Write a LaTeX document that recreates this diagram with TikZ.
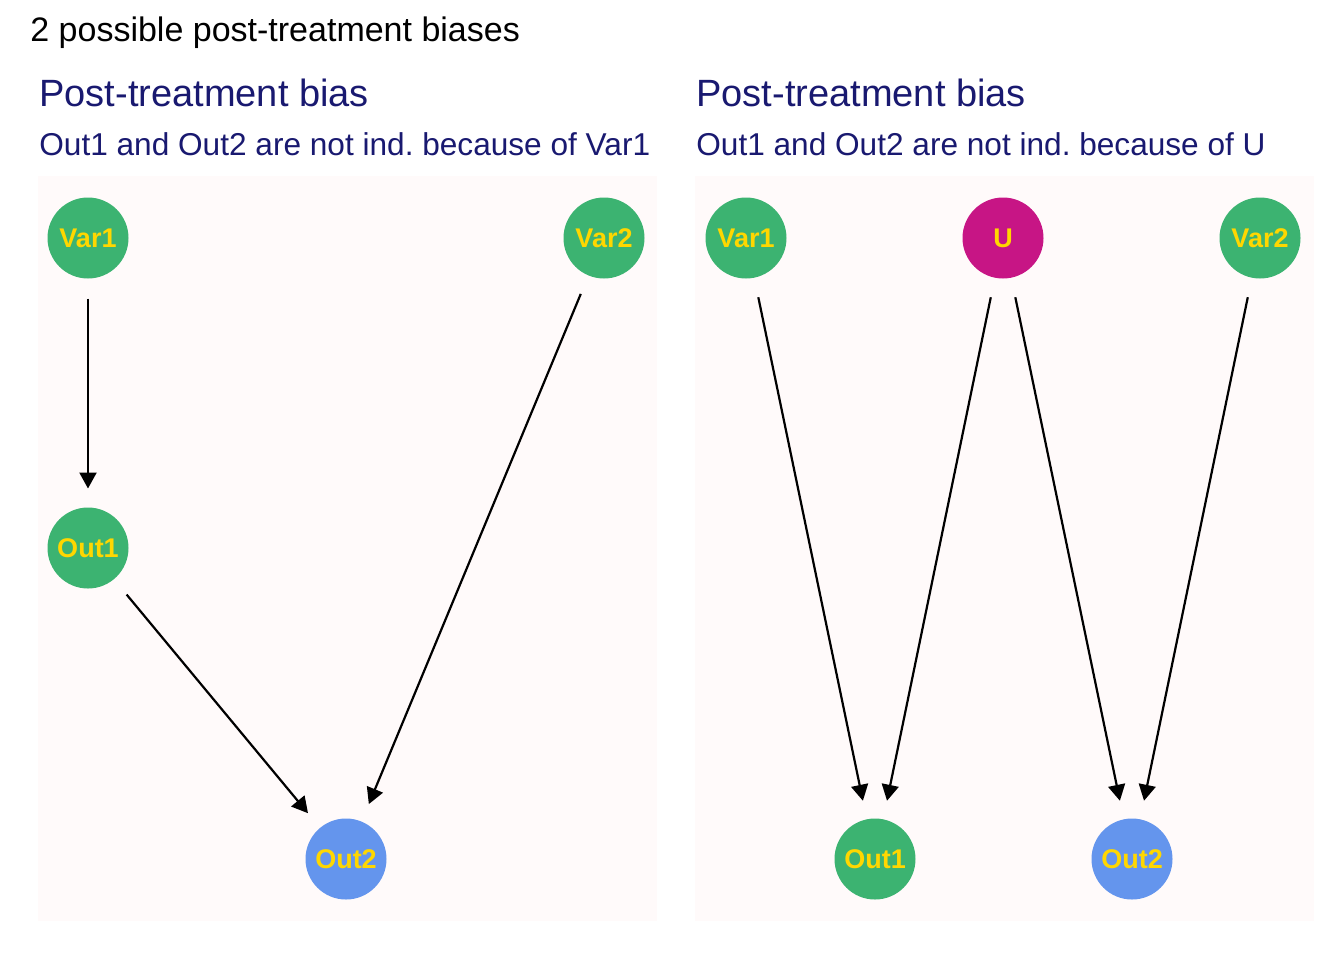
\documentclass[tikz,border=0pt]{standalone}
\usepackage{fontspec}
\setmainfont{Liberation Sans}
\frenchspacing
\usetikzlibrary{arrows, arrows.meta}
\definecolor{seagreen}{HTML}{3CB371}
\definecolor{cornblue}{HTML}{6495ED}
\definecolor{violetred}{HTML}{C71585}
\definecolor{goldtext}{HTML}{FFD700}
\definecolor{navytext}{HTML}{191970}
\definecolor{snowbg}{HTML}{FFFAFA}
\tikzset{vertex/.style = {shape = circle, fill = seagreen, minimum size = 40.5pt, inner sep = 0pt, outer sep = 0pt,
  text = goldtext, font = \fontsize{13.5}{15}\selectfont\bfseries}}
\tikzset{outcome/.style = {vertex, fill = cornblue}}
\tikzset{hidden/.style = {vertex, fill = violetred}}
\tikzset{edge/.style = {-{Triangle[length=8pt, width=8.5pt]}, line width = 1.1pt, shorten < = 10pt, shorten > = 9.5pt}}
\tikzset{heading/.style = {anchor = base west, inner sep = 0pt, text = navytext, font = \fontsize{19}{22}\selectfont}}
\tikzset{subheading/.style = {anchor = base west, inner sep = 0pt, text = navytext, font = \fontsize{15.8}{19}\selectfont}}

\begin{document}
\begin{tikzpicture}[x = {(0.5pt, 0)}, y = {(0, -0.5pt)}]
			\useasboundingbox[fill = white] (0, 0) rectangle (1344, 960);
			\node[anchor = base west, inner sep = 0pt, font = \fontsize{17}{20}\selectfont] (title) at (30, 41) {2 possible post-treatment biases};

			% left panel
			\fill[snowbg] (38, 176) rectangle (657, 921);
			\node[heading] (h1) at (39, 106) {Post-treatment bias};
			\node[subheading] (s1) at (39, 155) {Out1 and Out2 are not ind. because of Var1};

			\node[vertex] (a) at (88, 238) {Var1};
			\node[vertex] (b) at (604, 238) {Var2};
			\node[vertex] (c) at (88, 548) {Out1};
			\node[outcome] (d) at (346, 859) {Out2};

			\draw[edge] (a) to (c);
			\draw[edge] (c) to (d);
			\draw[edge] (b) to (d);

			% right panel
			\fill[snowbg] (695, 176) rectangle (1314, 921);
			\node[heading] (h2) at (696, 106) {Post-treatment bias};
			\node[subheading] (s2) at (696, 155) {Out1 and Out2 are not ind. because of U};

			\node[vertex] (e) at (746, 238) {Var1};
			\node[hidden] (f) at (1003, 238) {U};
			\node[vertex] (g) at (1260, 238) {Var2};
			\node[vertex] (h) at (875, 859) {Out1};
			\node[outcome] (i) at (1132, 859) {Out2};

			\draw[edge] (e) to (h);
			\draw[edge] (f) to (h);
			\draw[edge] (f) to (i);
			\draw[edge] (g) to (i);
		\end{tikzpicture}
\end{document}
